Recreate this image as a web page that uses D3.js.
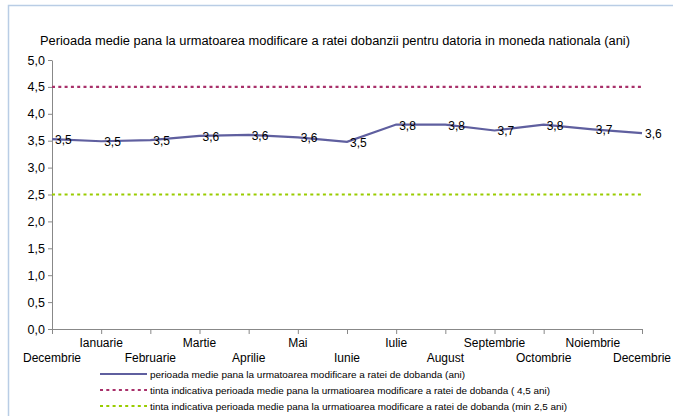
<!DOCTYPE html>
<html><head><meta charset="utf-8">
<script src="https://cdn.jsdelivr.net/npm/d3@7"></script>
<style>body{margin:0;background:#fff}svg{display:block;font-family:"Liberation Sans",Arial,sans-serif}</style>
</head><body><svg id="c" width="673" height="416"></svg>
<script>
const title = "Perioada medie pana la urmatoarea modificare a ratei dobanzii pentru datoria in moneda nationala (ani)";
const months = ["Decembrie","Ianuarie","Februarie","Martie","Aprilie","Mai","Iunie","Iulie","August","Septembrie","Octombrie","Noiembrie","Decembrie"];
const values = [3.53,3.49,3.51,3.59,3.61,3.56,3.48,3.80,3.80,3.69,3.80,3.71,3.64];
const targetMax = 4.5;
const targetMin = 2.5;
const yTicks = [0,0.5,1,1.5,2,2.5,3,3.5,4,4.5,5];
const legendLabels = [
  "perioada medie pana la urmatoarea modificare a ratei de dobanda (ani)",
  "tinta indicativa perioada medie pana la urmatioarea modificare a ratei de dobanda ( 4,5 ani)",
  "tinta indicativa perioada medie pana la urmatioarea modificare a ratei de dobanda (min 2,5 ani)"
];
const colLine = "#5f5f9f", colMax = "#a8306a", colMin = "#99cc00";

const svg = d3.select("#c");
// frame
svg.append("path").attr("d","M8.5,416 V5.5 H673").attr("fill","none").attr("stroke","#b9cde5").attr("stroke-width",1.5);

svg.append("text").attr("x",40).attr("y",45).attr("font-size",12.3)
  .attr("textLength",590).attr("lengthAdjust","spacingAndGlyphs").attr("fill","#000").text(title);

const L = 52, R = 642, T = 60, B = 329;
const x = d3.scalePoint().domain(d3.range(months.length)).range([L,R]);
const y = d3.scaleLinear().domain([0,5]).range([B,T]);
const fmt = v => d3.format(".1f")(v).replace(".",",");

// y axis
const ya = svg.append("g").attr("transform",`translate(${L},0)`)
  .call(d3.axisLeft(y).tickValues(yTicks).tickFormat(fmt).tickSize(4).tickSizeOuter(0).tickPadding(3));
ya.selectAll("text").attr("font-size",12.5).attr("fill","#000").attr("font-family","Liberation Sans, Arial, sans-serif");
ya.selectAll("line,path").attr("stroke","#888");

// x axis
const xa = svg.append("g").attr("transform",`translate(0,${B})`)
  .call(d3.axisBottom(x).tickSize(5).tickSizeOuter(0).tickFormat(""));
xa.selectAll("line,path").attr("stroke","#888");
const xl = svg.append("g");
months.forEach((m,i)=>{
  const t = xl.append("text").attr("font-size",12).attr("fill","#000")
    .attr("y", i%2===1 ? B+18 : B+33).text(m);
  const w = t.node().getComputedTextLength();
  let cx = x(i);
  cx = Math.max(cx, 5 + w/2);
  cx = Math.min(cx, 672 - w/2);
  t.attr("x", cx).attr("text-anchor","middle");
});

// target lines
[[targetMax,colMax],[targetMin,colMin]].forEach(([v,c])=>{
  svg.append("line").attr("x1",L).attr("x2",R).attr("y1",y(v)).attr("y2",y(v))
    .attr("stroke",c).attr("stroke-width",2.2).attr("stroke-dasharray","3,3.3");
});

// series line
svg.append("path").datum(values)
  .attr("d", d3.line().x((d,i)=>x(i)).y(d=>y(d)))
  .attr("fill","none").attr("stroke",colLine).attr("stroke-width",2.2);

svg.append("g").selectAll("text").data(values).join("text")
  .attr("x",(d,i)=>x(i)+3).attr("y",d=>y(d)+5)
  .attr("font-size",12).attr("fill","#000").text(fmt);

// legend
const lg = svg.append("g");
const styles = [[colLine,null],[colMax,"3,3.3"],[colMin,"3,3.3"]];
const legendWidths = [315, 400, 417];
legendLabels.forEach((lab,i)=>{
  const yy = 374 + i*16;
  lg.append("line").attr("x1",100).attr("x2",147).attr("y1",yy).attr("y2",yy)
    .attr("stroke",styles[i][0]).attr("stroke-width",2.2).attr("stroke-dasharray",styles[i][1]);
  lg.append("text").attr("x",150).attr("y",yy+3.5).attr("font-size",9.8)
    .attr("textLength",legendWidths[i]).attr("lengthAdjust","spacingAndGlyphs")
    .attr("fill","#000").text(lab);
});
</script></body></html>
